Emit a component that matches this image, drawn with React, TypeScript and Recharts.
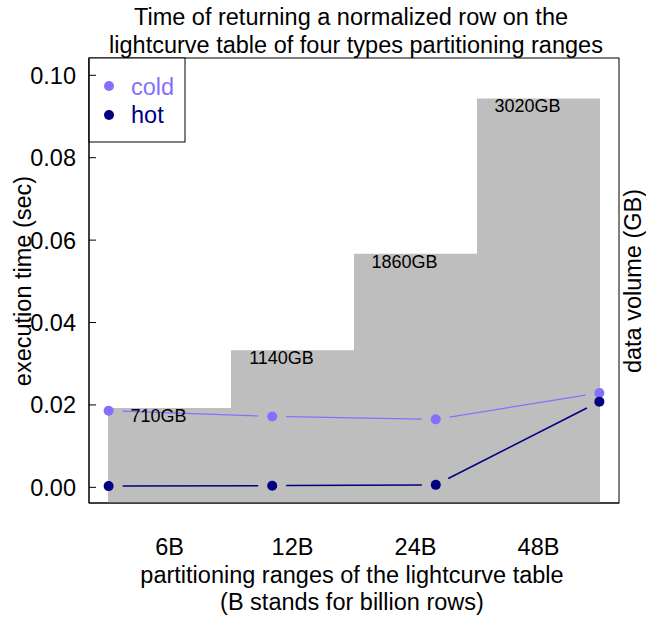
import React from "react";
import {
  ComposedChart,
  Bar,
  Line,
  XAxis,
  YAxis,
  LabelList,
} from "recharts";

// partition ranges and what they cost
const categories = ["6B", "12B", "24B", "48B"];
const volumeGB = [710, 1140, 1860, 3020];
const coldTime = [0.0186, 0.0172, 0.0165, 0.0229];
const hotTime = [0.0003, 0.0004, 0.0006, 0.0208];
const runIndex = [1, 2, 3, 4];
const timeTicks = [0, 0.02, 0.04, 0.06, 0.08, 0.1];

const COLD = "#8470FF";
const HOT = "#000080";
const FONT = '"Liberation Sans", Arial, sans-serif';

const data = categories.map((c, i) => ({
  cat: c,
  gb: volumeGB[i],
  pos: runIndex[i],
  cold: coldTime[i],
  hot: hotTime[i],
}));

// R type="b": dot plus a segment to the next point, with a gap round each dot
function gapDot(color: string, width: number) {
  return (props: any) => {
    const { cx, cy, index, points } = props;
    const next = points && points[index + 1];
    let seg = null;
    if (next) {
      const dx = next.x - cx;
      const dy = next.y - cy;
      const len = Math.sqrt(dx * dx + dy * dy);
      const g = 14;
      if (len > 2 * g) {
        const ux = dx / len;
        const uy = dy / len;
        seg = (
          <line
            x1={cx + ux * g}
            y1={cy + uy * g}
            x2={next.x - ux * g}
            y2={next.y - uy * g}
            stroke={color}
            strokeWidth={width}
          />
        );
      }
    }
    return (
      <g key={`d-${color}-${index}`}>
        {seg}
        <circle cx={cx} cy={cy} r={5} fill={color} />
      </g>
    );
  };
}

function TimeTick({ x, y, payload }: any) {
  return (
    <g>
      <line x1={x} y1={y} x2={x + 7} y2={y} stroke="#000" strokeWidth={1} />
      <text
        x={x - 13}
        y={y + 8.4}
        textAnchor="end"
        fontSize={23.5}
        fontFamily={FONT}
        fill="#000"
      >
        {Number(payload.value).toFixed(2)}
      </text>
    </g>
  );
}

function CatTick({ x, y, payload }: any) {
  return (
    <text
      x={x}
      y={y + 52}
      textAnchor="middle"
      fontSize={23.5}
      fontFamily={FONT}
      fill="#000"
    >
      {payload.value}
    </text>
  );
}

function VolumeLabel(props: any) {
  const { x, y, width, value } = props;
  return (
    <text
      x={Number(x) + Number(width) / 2 - 11}
      y={Number(y) + 14}
      textAnchor="middle"
      fontSize={18}
      fontFamily={FONT}
      fill="#000"
    >
      {value}GB
    </text>
  );
}

const txt = { fontFamily: FONT, fontSize: 23.5, fill: "#000" };

export default function App() {
  return (
    <div
      style={{
        position: "absolute",
        left: 0,
        top: 0,
        width: 646,
        height: 617,
        background: "#fff",
      }}
    >
      <ComposedChart
        width={646}
        height={617}
        data={data}
        margin={{ top: 58, right: 27, bottom: 0, left: 0 }}
        barCategoryGap={0}
        barGap={0}
      >
        <XAxis
          xAxisId="cat"
          dataKey="cat"
          height={114}
          padding={{ left: 19, right: 19 }}
          axisLine={{ stroke: "#000", strokeWidth: 1 }}
          tickLine={false}
          tickSize={0}
          tickMargin={0}
          tick={<CatTick />}
          interval={0}
        />
        <XAxis
          xAxisId="pos"
          dataKey="pos"
          type="number"
          domain={[0.88, 4.12]}
          allowDataOverflow
          hide
        />
        <YAxis
          yAxisId="t"
          type="number"
          width={89}
          domain={[-0.0038, 0.1042]}
          allowDataOverflow
          ticks={timeTicks}
          interval={0}
          axisLine={{ stroke: "#000", strokeWidth: 1 }}
          tickLine={false}
          tickSize={0}
          tickMargin={0}
          tick={<TimeTick />}
        />
        <YAxis
          yAxisId="gb"
          orientation="right"
          type="number"
          width={0}
          domain={[0, 3322]}
          allowDataOverflow
          axisLine={{ stroke: "#000", strokeWidth: 1 }}
          tick={false}
          tickLine={false}
        />
        <Bar
          xAxisId="cat"
          yAxisId="gb"
          dataKey="gb"
          fill="#BEBEBE"
          isAnimationActive={false}
        >
          <LabelList dataKey="gb" content={<VolumeLabel />} />
        </Bar>
        <Line
          xAxisId="pos"
          yAxisId="t"
          dataKey="cold"
          stroke="none"
          dot={gapDot(COLD, 1.2)}
          activeDot={false}
          isAnimationActive={false}
        />
        <Line
          xAxisId="pos"
          yAxisId="t"
          dataKey="hot"
          stroke="none"
          dot={gapDot(HOT, 1.5)}
          activeDot={false}
          isAnimationActive={false}
        />

        {/* plot frame (R box()) */}
        <rect x={89} y={58} width={530} height={445} fill="none" stroke="#000" />

        {/* legend box, top-left corner of the plot */}
        <rect x={89} y={58} width={96} height={84} fill="#fff" stroke="#000" />
        <circle cx={109} cy={86} r={5} fill={COLD} />
        <text x={131} y={95} {...txt} fill={COLD}>
          cold
        </text>
        <circle cx={109} cy={115} r={5} fill={HOT} />
        <text x={131} y={123} {...txt} fill={HOT}>
          hot
        </text>

        <text x={351} y={25} textAnchor="middle" {...txt}>
          Time of returning a normalized row on the
        </text>
        <text x={356} y={53} textAnchor="middle" {...txt}>
          lightcurve table of four types partitioning ranges
        </text>
        <text x={352} y={583} textAnchor="middle" {...txt}>
          partitioning ranges of the lightcurve table
        </text>
        <text x={352} y={610} textAnchor="middle" {...txt}>
          (B stands for billion rows)
        </text>
        <text
          x={31}
          y={281}
          textAnchor="middle"
          transform="rotate(-90 31 281)"
          {...txt}
        >
          execution time (sec)
        </text>
        <text
          x={641}
          y={281}
          textAnchor="middle"
          transform="rotate(-90 641 281)"
          {...txt}
        >
          data volume (GB)
        </text>
      </ComposedChart>
    </div>
  );
}
